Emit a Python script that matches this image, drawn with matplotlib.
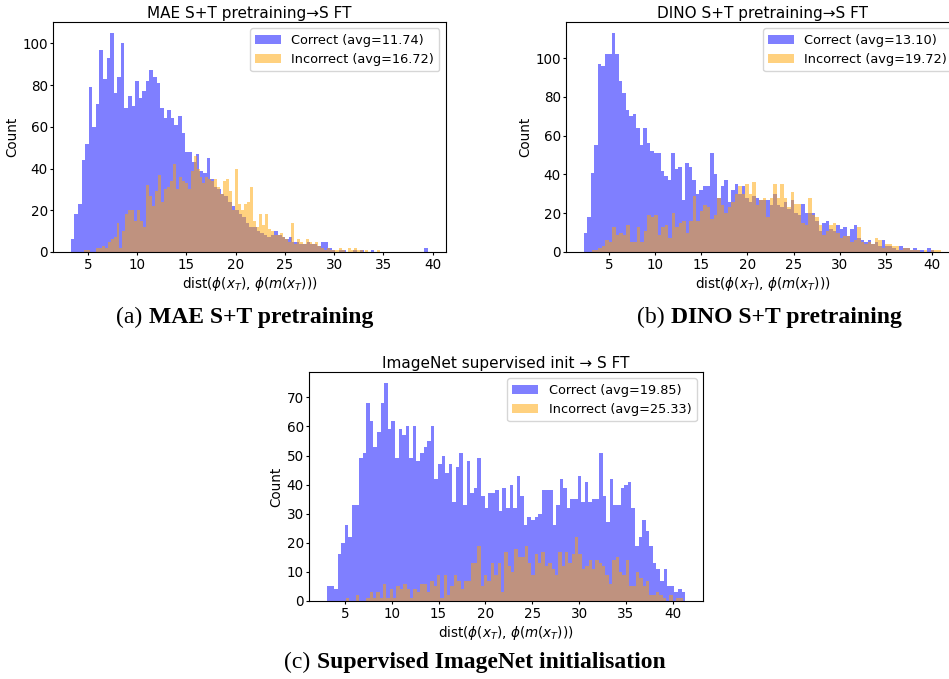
import numpy as np
import matplotlib
matplotlib.use("Agg")
import matplotlib.pyplot as plt
from matplotlib.offsetbox import TextArea, HPacker, AnnotationBbox

# bin counts (100 bins each)
mae_correct = [6, 18, 23, 44, 52, 79, 60, 71, 97, 83, 93, 105, 76, 84, 100, 69, 75, 70, 82, 74,
               77, 82, 87, 84, 81, 69, 64, 68, 64, 61, 65, 57, 48, 48, 43, 47, 39, 38, 45, 35,
               31, 30, 28, 27, 24, 22, 20, 18, 17, 14, 12, 12, 10, 9, 8, 7, 8, 10, 8, 7,
               6, 7, 5, 5, 4, 4, 5, 4, 4, 3, 5, 5, 2, 1, 0, 1, 1, 0, 0, 1,
               0, 1, 0, 0, 1, 0, 0, 0, 0, 0, 0, 0, 0, 0, 0, 0, 0, 0, 0, 2]
mae_incorrect = [1, 1, 0, 0, 2, 2, 3, 2, 5, 6, 7, 14, 2, 10, 18, 20, 20, 15, 20, 15,
                 12, 32, 27, 22, 29, 37, 24, 30, 31, 34, 42, 30, 36, 34, 33, 30, 39, 46, 40, 36,
                 33, 36, 35, 34, 35, 31, 28, 34, 35, 29, 20, 40, 23, 20, 23, 24, 31, 15, 12, 18,
                 13, 18, 11, 10, 8, 8, 9, 7, 6, 5, 14, 4, 6, 5, 4, 6, 5, 4, 5, 3,
                 2, 1, 2, 1, 1, 1, 2, 1, 0, 2, 1, 2, 1, 1, 0, 1, 0, 0, 0, 1]
mae_range = {"correct": (3.27, 39.55), "incorrect": (4.6, 34.7)}

dino_correct = [10, 18, 41, 55, 97, 96, 102, 102, 113, 102, 88, 82, 73, 70, 71, 64, 55, 64, 56, 52,
                51, 51, 42, 39, 37, 51, 43, 44, 27, 46, 44, 37, 30, 32, 34, 34, 51, 40, 28, 34,
                37, 26, 32, 35, 30, 34, 28, 26, 29, 28, 27, 27, 27, 24, 30, 24, 23, 26, 22, 27,
                20, 19, 25, 20, 20, 20, 16, 11, 15, 16, 12, 11, 14, 12, 13, 8, 12, 14, 7, 6,
                5, 6, 4, 5, 3, 6, 3, 3, 2, 1, 3, 2, 2, 1, 2, 1, 1, 0, 2, 1]
dino_incorrect = [1, 1, 2, 3, 6, 5, 13, 9, 10, 9, 14, 5, 5, 13, 5, 11, 19, 18, 19, 9,
                  13, 14, 7, 20, 13, 15, 16, 10, 16, 29, 16, 21, 24, 23, 17, 19, 28, 24, 20, 23,
                  26, 30, 34, 30, 35, 30, 36, 24, 27, 28, 18, 28, 35, 28, 35, 28, 23, 31, 25, 25,
                  15, 14, 28, 19, 18, 14, 9, 11, 14, 15, 10, 7, 8, 8, 5, 6, 13, 5, 4, 5,
                  4, 7, 6, 2, 4, 4, 3, 3, 1, 2, 2, 1, 1, 1, 0, 1, 0, 1, 1, 1]
dino_range = {"correct": (2.26, 40.26), "incorrect": (3.09, 41.0)}

sup_correct = [5, 5, 4, 16, 20, 26, 22, 33, 33, 49, 51, 68, 62, 53, 58, 68, 75, 59, 62, 49,
               59, 57, 60, 49, 60, 48, 51, 53, 55, 60, 42, 47, 50, 44, 47, 34, 46, 51, 33, 48,
               37, 39, 49, 36, 32, 37, 37, 38, 31, 39, 32, 40, 32, 43, 36, 26, 29, 28, 29, 30,
               38, 38, 38, 26, 33, 42, 39, 32, 35, 35, 43, 34, 41, 34, 35, 35, 51, 36, 27, 42,
               33, 33, 39, 40, 41, 32, 19, 22, 28, 24, 19, 13, 11, 7, 11, 5, 5, 3, 4, 3]
sup_incorrect = [1, 0, 0, 2, 0, 0, 1, 3, 1, 3, 1, 6, 1, 4, 1, 5, 4, 6, 4, 1,
                 4, 3, 6, 6, 3, 7, 5, 9, 1, 9, 2, 5, 9, 7, 4, 7, 7, 13, 13, 19,
                 5, 9, 7, 13, 9, 13, 3, 17, 12, 10, 18, 15, 15, 19, 13, 9, 16, 13, 17, 12,
                 13, 11, 9, 17, 12, 17, 13, 16, 22, 16, 11, 12, 14, 11, 14, 13, 12, 9, 6, 14,
                 15, 10, 9, 14, 5, 5, 10, 8, 5, 7, 2, 2, 3, 2, 1, 0, 2, 0, 1, 1]
sup_range = {"correct": (3.07, 41.33), "incorrect": (5.1, 41.1)}

titles = ["MAE S+T pretraining\u2192S FT", "DINO S+T pretraining\u2192S FT",
          "ImageNet supervised init \u2192 S FT"]
avgs = [(11.74, 16.72), (13.10, 19.72), (19.85, 25.33)]
captions = [("(a)", "MAE S+T pretraining"), ("(b)", "DINO S+T pretraining"),
            ("(c)", "Supervised ImageNet initialisation")]

plt.rcParams["font.size"] = 9.75
plt.rcParams["xtick.major.size"] = 2.5
plt.rcParams["ytick.major.size"] = 2.5
plt.rcParams["xtick.major.pad"] = 2
plt.rcParams["ytick.major.pad"] = 1.2

fig = plt.figure(figsize=(9.49, 6.79), dpi=100)
ax1 = fig.add_axes([0.0558, 0.6289, 0.4141, 0.3387])
ax2 = fig.add_axes([0.5964, 0.6289, 0.4141, 0.3387])
ax3 = fig.add_axes([0.3256, 0.1149, 0.4152, 0.3373])

panels = [
    (ax1, mae_correct, mae_incorrect, mae_range),
    (ax2, dino_correct, dino_incorrect, dino_range),
    (ax3, sup_correct, sup_incorrect, sup_range),
]

for k, (ax, corr, inc, rng) in enumerate(panels):
    e1 = np.linspace(*rng["correct"], len(corr) + 1)
    e2 = np.linspace(*rng["incorrect"], len(inc) + 1)
    ax.hist(e1[:-1], bins=e1, weights=corr, color="blue", alpha=0.5,
            label=f"Correct (avg={avgs[k][0]:.2f})")
    ax.hist(e2[:-1], bins=e2, weights=inc, color="orange", alpha=0.5,
            label=f"Incorrect (avg={avgs[k][1]:.2f})")
    ax.set_title(titles[k], fontsize=11, pad=3)
    ax.set_xlabel(r"dist($\phi(x_T)$, $\phi(m(x_T))$)", labelpad=2)
    ax.set_ylabel("Count", labelpad=2.5)
    ax.legend(loc="upper right", fontsize=9.3)

# captions under each panel: normal label + bold text, Times-like serif
cap_pos = [(0.258, 0.532), (0.811, 0.532), (0.5, 0.024)]
for (x, y), (lab, txt) in zip(cap_pos, captions):
    t1 = TextArea(lab, textprops=dict(family="Liberation Serif", size=17))
    t2 = TextArea(txt, textprops=dict(family="Liberation Serif", size=17, weight="bold"))
    box = HPacker(children=[t1, t2], align="baseline", pad=0, sep=5)
    ab = AnnotationBbox(box, (x, y), xycoords="figure fraction", frameon=False,
                        box_alignment=(0.5, 0.5), pad=0)
    fig.add_artist(ab)

plt.savefig("out.png", dpi=100)
